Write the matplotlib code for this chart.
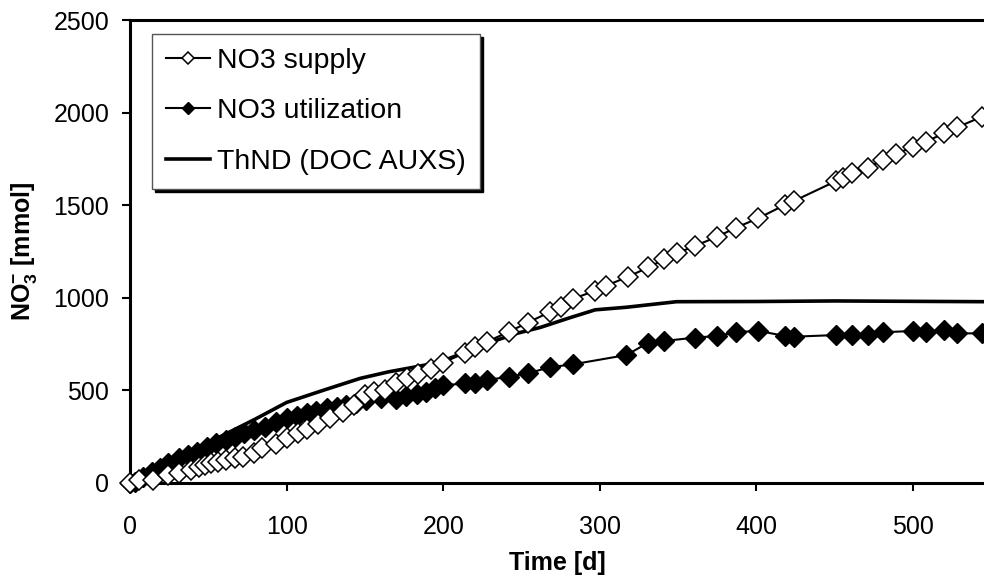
import numpy as np
import matplotlib
matplotlib.use("Agg")
import matplotlib.pyplot as plt

plt.rcParams['font.family'] = ['Liberation Sans', 'DejaVu Sans']
plt.rcParams['mathtext.fontset'] = 'custom'
plt.rcParams['mathtext.rm'] = 'Liberation Sans'
plt.rcParams['mathtext.bf'] = 'Liberation Sans:bold'

# NO3 supply (open diamonds)
supply_days = [0, 6, 15, 24.5, 31, 39, 44, 48, 52, 56, 61, 67, 72, 79, 84, 93,
               100, 107, 113, 120, 128, 136, 143, 150, 156, 163, 170, 177, 184, 192,
               200, 214, 220, 228, 242, 254, 268, 275, 283, 297, 304, 318, 331, 341,
               349, 361, 375, 387, 401, 418, 424, 451, 455, 461, 471, 481, 489, 500,
               508, 520, 528, 544]
supply_vals = [0, 16, 16, 43, 52, 70, 88, 97, 106, 115, 124, 133, 142, 160, 187, 210,
               244, 270, 292, 320, 349, 385, 421, 473, 490, 500, 538, 568, 588, 614,
               650, 704, 736, 763, 817, 866, 923, 949, 995, 1038, 1065, 1114, 1164, 1207,
               1240, 1281, 1330, 1379, 1429, 1501, 1523, 1631, 1645, 1672, 1703, 1744, 1775, 1816,
               1843, 1888, 1920, 1978]

# NO3 utilization (filled diamonds)
util_days = [0, 3, 8.5, 14, 19, 24.5, 31, 37, 43, 49, 55, 61, 67, 73, 79, 86, 93,
             100, 106.5, 113, 119, 126, 132, 138, 144, 151, 160, 170, 176, 183, 189, 195,
             200, 214, 220, 228, 242, 254, 268, 283, 317, 331, 341, 361, 375, 387, 401,
             418, 424, 451, 461, 471, 481, 500, 508, 520, 528, 544]
util_vals = [0, 7, 34, 61, 79, 106, 133, 151, 169, 196, 214, 232, 250, 268, 286, 304, 330,
             349, 362, 376, 388, 403, 412, 421, 430, 448, 457, 452, 470, 482, 494, 511,
             527, 538, 538, 556, 574, 592, 625, 641, 691, 758, 767, 785, 794, 814, 822,
             794, 790, 799, 799, 799, 814, 821, 817, 826, 808, 808]

# ThND (DOC AUXS) (line)
thnd_days = [0, 20, 40, 60, 80, 100, 110, 125, 147, 165, 183, 192, 204, 228, 247,
             262, 280, 297, 317, 349, 400, 450, 545]
thnd_vals = [0, 90, 175, 260, 345, 435, 463, 505, 565, 600, 628, 643, 673, 754, 808,
             840, 890, 935, 949, 979, 980, 983, 979]

fig = plt.figure(figsize=(9.84, 5.79), dpi=100)
ax = fig.add_axes([130/984, 96/579, 854/984, 463/579])

ax.plot(thnd_days, thnd_vals, color='black', lw=2.6, label='ThND (DOC AUXS)', zorder=2)
ax.plot(util_days, util_vals, color='black', lw=1.5, marker='D', ms=10,
        mfc='black', mec='black', label='NO3 utilization', zorder=3, clip_on=False)
ax.plot(supply_days, supply_vals, color='black', lw=1.5, marker='D', ms=10,
        mfc='white', mec='black', mew=1.1, label='NO3 supply', zorder=4, clip_on=False)

ax.set_xlim(0, 545.3)
ax.set_ylim(0, 2500)
ax.set_xticks([0, 100, 200, 300, 400, 500])
ax.set_yticks([0, 500, 1000, 1500, 2000, 2500])
ax.tick_params(direction='out', length=6, width=1.5, labelsize=18, pad=9)
ax.tick_params(axis='x', pad=17)

ax.spines['right'].set_visible(False)
for s in ['left', 'bottom', 'top']:
    ax.spines[s].set_linewidth(2.2)

ax.set_xlabel('Time [d]', fontsize=18, fontweight='bold', labelpad=9)
ax.set_ylabel(r'NO$_\mathbf{3}^{\mathbf{-}}$ [mmol]', fontsize=18, fontweight='bold', labelpad=10)

h, l = ax.get_legend_handles_labels()
order = [2, 1, 0]
leg = ax.legend([h[i] for i in order], [l[i] for i in order],
                loc='upper left', bbox_to_anchor=(22/854, 1 - 14/463),
                borderaxespad=0, fontsize=20.5, fancybox=False, edgecolor='#555555',
                framealpha=1, handlelength=1.55, handletextpad=0.25, labelspacing=0.85,
                borderpad=0.5, markerscale=0.6,
                shadow={'color': 'black', 'alpha': 1})
leg.get_frame().set_linewidth(1.0)

fig.savefig('out.png', dpi=100)
